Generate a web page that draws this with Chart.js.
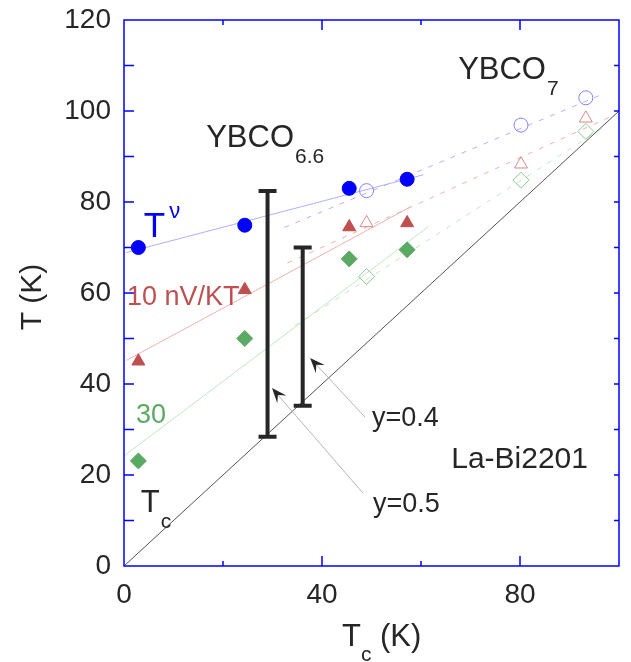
<!DOCTYPE html>
<html>
<head>
<meta charset="utf-8">
<script src="https://cdn.jsdelivr.net/npm/chart.js@4.4.0/dist/chart.umd.min.js"></script>
<style>
  html, body { margin: 0; padding: 0; background: #fff; }
  #wrap { width: 631px; height: 662px; }
</style>
</head>
<body>
<div id="wrap"><canvas id="chart" width="631" height="662"></canvas></div>
<script>
// onset temperatures vs Tc, La-Bi2201 (filled) and YBCO (open)
const tcFilled = [2.9, 24.4, 45.5, 57.2];
const tnuFilled = [70.0, 74.9, 83.0, 85.0];
const n10Filled = [45.0, 60.7, 74.5, 75.4];
const n30Filled = [23.1, 50.0, 67.5, 69.5];

const tcOpen = [49.0, 80.2, 93.3];
const tnuOpen = [82.5, 96.9, 102.9];
const n10Open = [75.4, 88.3, 98.4];
const n30Open = [63.6, 84.8, 95.5];

// fit lines (endpoints)
const fitSolidX = {blue: [0.5, 60.5], red: [0.5, 58.0], green: [0, 61.5]};
const fitSolidY = {blue: [68.9, 86.0], red: [45.2, 79.0], green: [24.2, 74.6]};
const fitDashX = {blue: [32.4, 96.7], red: [33.0, 99.0], green: [34.5, 97.0]};
const fitDashY = {blue: [74.4, 103.7], red: [66.6, 99.1], green: [52.8, 96.5]};

// T = Tc
const diagX = [0, 100];
const diagY = [0, 100];

// ranges for y=0.5 and y=0.4
const barX = [29.0, 36.1];
const barLo = [28.4, 35.2];
const barHi = [82.4, 70.0];

const xTickLabels = [0, 40, 80];
const yTickLabels = [0, 20, 40, 60, 80, 100, 120];

const pts = (xs, ys) => xs.map((v, i) => ({x: v, y: ys[i]}));

const BLUE = '#0000ff', RED = '#bf5050', GREEN = '#5aaa64';
const INK = '#262626';
const FONT = '"Liberation Sans", Arial, sans-serif';

function lineSet(xs, ys, color, dash) {
    return {
        data: pts(xs, ys), showLine: true, pointRadius: 0,
        borderColor: color, borderWidth: 1, borderDash: dash || [], order: 5
    };
}

function markSet(xs, ys, style, r, fill, stroke) {
    return {
        data: pts(xs, ys), showLine: false, pointStyle: style, pointRadius: r,
        pointHoverRadius: r, backgroundColor: fill, borderColor: stroke,
        pointBorderWidth: 1, order: 1
    };
}

const datasets = [
    lineSet(diagX, diagY, '#555555'),
    lineSet(fitSolidX.blue, fitSolidY.blue, '#b0b0ff'),
    lineSet(fitSolidX.red, fitSolidY.red, '#f0b0b0'),
    lineSet(fitSolidX.green, fitSolidY.green, '#c4e4c6'),
    lineSet(fitDashX.blue, fitDashY.blue, '#b0b0ff', [5, 7]),
    lineSet(fitDashX.red, fitDashY.red, '#f0b0b0', [5, 7]),
    lineSet(fitDashX.green, fitDashY.green, '#c4e4c6', [5, 7]),
    markSet(tcFilled, tnuFilled, 'circle', 7, BLUE, BLUE),
    markSet(tcFilled, n10Filled, 'triangle', 7.5, RED, RED),
    markSet(tcFilled, n30Filled, 'rectRot', 8, GREEN, GREEN),
    markSet(tcOpen, tnuOpen, 'circle', 7, 'rgba(0,0,0,0)', '#8080ff'),
    markSet(tcOpen, n10Open, 'triangle', 7.5, 'rgba(0,0,0,0)', '#d98888'),
    markSet(tcOpen, n30Open, 'rectRot', 8, 'rgba(0,0,0,0)', '#88c890')
];

// each part: [text, size, dy, dx]
function drawRich(ctx, x0, y0, parts, color) {
    let x = x0;
    ctx.fillStyle = color;
    ctx.textAlign = 'left';
    ctx.textBaseline = 'alphabetic';
    parts.forEach(p => {
        ctx.font = p[1] + 'px ' + FONT;
        x += p[3] || 0;
        ctx.fillText(p[0], x, y0 + (p[2] || 0));
        x += ctx.measureText(p[0]).width;
    });
}

const labels = [
    {x: 67.5, y: 107.0, color: INK, parts: [['YBCO', 31], ['7', 21, 16, 1]]},
    {x: 16.6, y: 92.1, color: INK, parts: [['YBCO', 31], ['6.6', 21, 16, 1]]},
    {x: 4.0, y: 72.3, color: BLUE, parts: [['T', 35], ['\u03bd', 22, -19, 4]]},
    {x: 0.6, y: 57.4, color: RED, parts: [['10 nV/KT', 27]]},
    {x: 2.4, y: 31.4, color: GREEN, parts: [['30', 27]]},
    {x: 3.4, y: 11.9, color: INK, parts: [['T', 31], ['c', 21, 16, 1]]},
    {x: 66.1, y: 21.5, color: INK, parts: [['La-Bi2201', 30]]},
    {x: 50.1, y: 30.8, color: INK, parts: [['y=0.4', 27]]},
    {x: 50.3, y: 11.9, color: INK, parts: [['y=0.5', 27]]}
];

const arrowTail = [[48.7, 32.7], [48.3, 16.0]];
const arrowHead = [[37.6, 45.7], [29.9, 39.1]];

const overlay = {
    id: 'overlay',
    afterDatasetsDraw(chart) {
        const {ctx, scales: {x, y}} = chart;
        ctx.save();
        // error bars
        ctx.strokeStyle = INK;
        ctx.lineWidth = 4;
        barX.forEach((bx, i) => {
            const px = x.getPixelForValue(bx);
            const top = y.getPixelForValue(barHi[i]);
            const bot = y.getPixelForValue(barLo[i]);
            ctx.beginPath();
            ctx.moveTo(px, top); ctx.lineTo(px, bot);
            ctx.moveTo(px - 9, top); ctx.lineTo(px + 9, top);
            ctx.moveTo(px - 9, bot); ctx.lineTo(px + 9, bot);
            ctx.stroke();
        });
        // arrows
        arrowTail.forEach((t, i) => {
            const tx = x.getPixelForValue(t[0]), ty = y.getPixelForValue(t[1]);
            const hx = x.getPixelForValue(arrowHead[i][0]), hy = y.getPixelForValue(arrowHead[i][1]);
            const len = Math.hypot(hx - tx, hy - ty);
            const dx = (hx - tx) / len, dy = (hy - ty) / len;
            const nx = -dy, ny = dx;
            ctx.strokeStyle = '#b4b4b4';
            ctx.lineWidth = 1;
            ctx.beginPath();
            ctx.moveTo(tx, ty); ctx.lineTo(hx - dx * 8, hy - dy * 8);
            ctx.stroke();
            const L = 15, W = 6;
            ctx.fillStyle = INK;
            ctx.beginPath();
            ctx.moveTo(hx, hy);
            ctx.lineTo(hx - dx * L + nx * W, hy - dy * L + ny * W);
            ctx.lineTo(hx - dx * L * 0.6, hy - dy * L * 0.6);
            ctx.lineTo(hx - dx * L - nx * W, hy - dy * L - ny * W);
            ctx.closePath();
            ctx.fill();
        });
        ctx.restore();
    },
    afterDraw(chart) {
        const {ctx, chartArea: a, scales: {x, y}} = chart;
        ctx.save();
        // frame and inward ticks
        ctx.strokeStyle = BLUE;
        ctx.lineWidth = 1.5;
        ctx.strokeRect(a.left, a.top, a.right - a.left, a.bottom - a.top);
        ctx.beginPath();
        for (let v = 10; v < 120; v += 10) {
            const py = y.getPixelForValue(v);
            ctx.moveTo(a.left, py); ctx.lineTo(a.left + 10, py);
            ctx.moveTo(a.right, py); ctx.lineTo(a.right - 5, py);
        }
        for (let v = 20; v < 100; v += 20) {
            const px = x.getPixelForValue(v);
            const l = v % 40 === 0 ? 10 : 5;
            ctx.moveTo(px, a.bottom); ctx.lineTo(px, a.bottom - l);
            ctx.moveTo(px, a.top); ctx.lineTo(px, a.top + l);
        }
        ctx.stroke();

        // annotations
        labels.forEach(l => {
            drawRich(ctx, x.getPixelForValue(l.x), y.getPixelForValue(l.y), l.parts, l.color);
        });

        // axis titles
        drawRich(ctx, 342, 646, [['T', 31], ['c', 21, 15, 0], [' (K)', 31]], INK);
        ctx.save();
        ctx.translate(33, 297);
        ctx.rotate(-Math.PI / 2);
        ctx.font = '30px ' + FONT;
        ctx.fillStyle = INK;
        ctx.textAlign = 'center';
        ctx.textBaseline = 'middle';
        ctx.fillText('T (K)', 0, 0);
        ctx.restore();
        ctx.restore();
    }
};

new Chart(document.getElementById('chart'), {
    type: 'scatter',
    data: {datasets},
    plugins: [overlay],
    options: {
        responsive: false,
        animation: false,
        layout: {padding: {top: 20, right: 12, left: 0, bottom: 0}},
        plugins: {legend: {display: false}, tooltip: {enabled: false}},
        scales: {
            x: {
                type: 'linear', min: 0, max: 100,
                grid: {display: false, drawTicks: false},
                border: {display: false},
                afterFit: s => { s.height = 96; s.paddingLeft = 0; s.paddingRight = 0; },
                afterBuildTicks: s => { s.ticks = xTickLabels.map(v => ({value: v})); },
                ticks: {font: {size: 28, family: FONT}, color: INK, padding: 12, maxRotation: 0}
            },
            y: {
                type: 'linear', min: 0, max: 120,
                grid: {display: false, drawTicks: false},
                border: {display: false},
                afterFit: s => { s.width = 124; s.paddingTop = 0; s.paddingBottom = 0; },
                afterBuildTicks: s => { s.ticks = yTickLabels.map(v => ({value: v})); },
                ticks: {font: {size: 28, family: FONT}, color: INK, padding: 13}
            }
        }
    }
});
</script>
</body>
</html>
